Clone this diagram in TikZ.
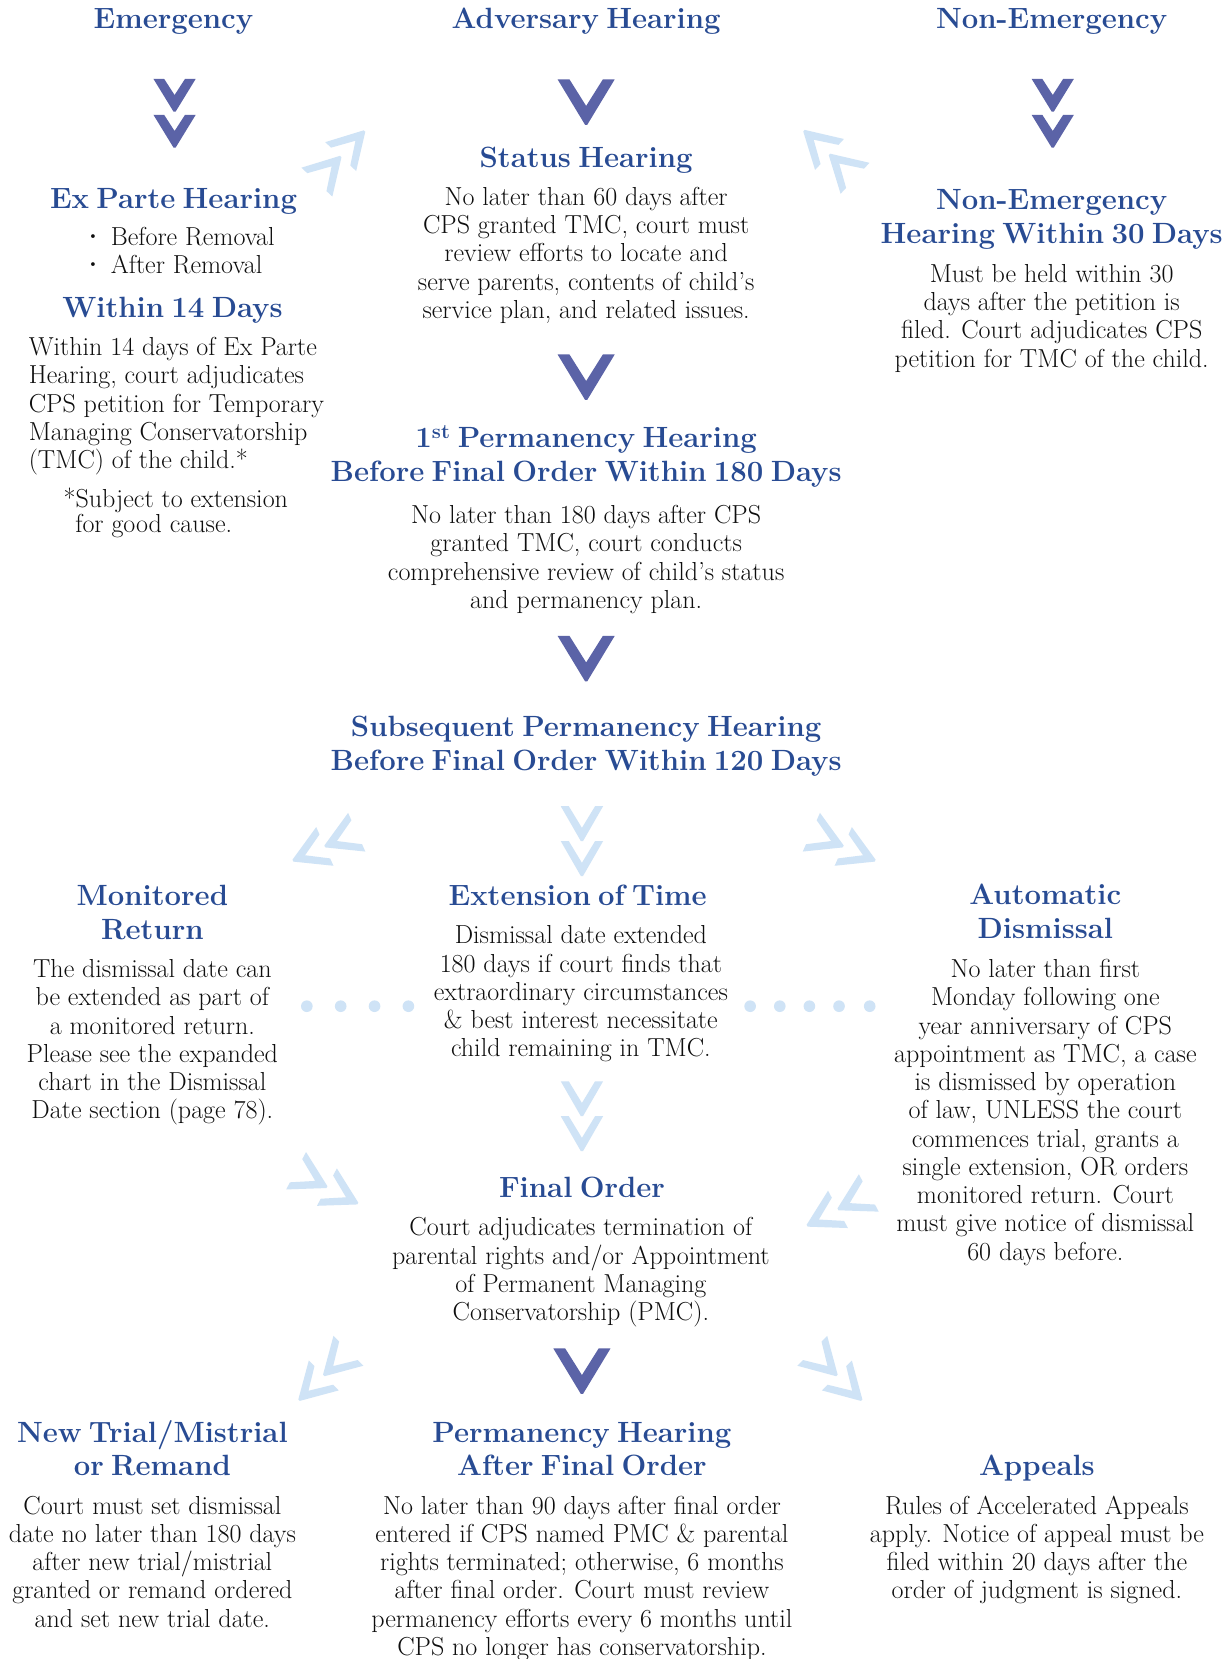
\documentclass[tikz,border=0pt]{standalone}
\definecolor{hblue}{HTML}{284B93}
\definecolor{dchev}{HTML}{5B63A7}
\definecolor{lchev}{HTML}{CFE3F6}
\definecolor{txt}{HTML}{0E0E0E}
% single V: x, y (centre), tip direction, half width, height, arm thickness, colour
\newcommand\myV[7]{%
  \begin{scope}[shift={(#1,#2)},rotate=#3+90]
    \pgfmathsetmacro\myL{sqrt((#4)*(#4)+(#5)*(#5))}%
    \pgfmathsetmacro\myd{(#6)*\myL/(#5)}%
    \pgfmathsetmacro\mye{(#6)*\myL/(#4)}%
    \pgfmathsetmacro\myhh{(#5)/2}%
    \fill[#7] (-#4pt,\myhh pt) -- (-#4pt+\myd pt,\myhh pt) -- (0pt,-\myhh pt+\mye pt)
      -- (#4pt-\myd pt,\myhh pt) -- (#4pt,\myhh pt) -- (1pt,-\myhh pt) -- (-1pt,-\myhh pt) -- cycle;
  \end{scope}}
% double V: x, y, tip direction, half width, height, thickness, spacing, colour
\newcommand\myVV[8]{%
  \pgfmathsetmacro\mydx{(#7)/2*cos(#3)}%
  \pgfmathsetmacro\mydy{(#7)/2*sin(#3)}%
  \myV{#1+\mydx}{#2-\mydy}{#3}{#4}{#5}{#6}{#8}%
  \pgfmathsetmacro\mydx{(#7)/2*cos(#3)}%
  \pgfmathsetmacro\mydy{(#7)/2*sin(#3)}%
  \myV{#1-\mydx}{#2+\mydy}{#3}{#4}{#5}{#6}{#8}}
\newcommand\hdfont{\fontsize{27.7}{32}\selectfont\bfseries\spaceskip 0.25em plus 0.05em minus 0.05em\relax}
\newcommand\bdfont{\fontsize{24.6}{26.7}\selectfont}
\newcommand\fnfont{\fontsize{24.6}{22}\selectfont}
\tikzset{
  head/.style={font=\hdfont, text=hblue, align=center, inner sep=0pt, anchor=base},
  body/.style={font=\bdfont, text=txt, align=center, inner sep=0pt, anchor=base},
}
\begin{document}
\begin{tikzpicture}[x=1pt,y=-1pt]
\useasboundingbox (0,0) rectangle (1163,1568);
\fill[white] (0,0) rectangle (1163,1568);

% (multi-line nodes are placed at the baseline of their last line)
% top row
\node[head] (hEm) at (164,27) {Emergency};
\node[head] (hAdv) at (554,27) {Adversary Hearing};
\node[head] (hNon) at (994,27) {Non-Emergency};

% status
\node[head] (hStat) at (554,158) {Status Hearing};
\node[body] (bStat) at (554,300.8) {No later than 60 days after\\CPS granted TMC, court must\\review efforts to locate and\\serve parents, contents of child’s\\service plan, and related issues.};

% ex parte
\node[head] (hEx) at (164,197) {Ex Parte Hearing};
\node[body, align=left, anchor=base west] (bEx) at (77,258.7) {\textbf{·}\hspace{6pt}Before Removal\\\textbf{·}\hspace{6pt}After Removal};
\node[head] (hW14) at (163,300) {Within 14 Days};
\node[body, align=left, anchor=base west] (bW14) at (27,442.8) {Within 14 days of Ex Parte\\Hearing, court adjudicates\\CPS petition for Temporary\\Managing Conservatorship\\(TMC) of the child.*};
\node[body, align=left, anchor=base west, font=\fnfont] (fn) at (60,503) {*Subject to extension\\\hspace*{11pt}for good cause.};

% non-emergency
\node[head] (hNE) at (994,230) {Non-Emergency\\Hearing Within 30 Days};
\node[body] (bNE) at (994,347.1) {Must be held within 30\\days after the petition is\\filed. Court adjudicates CPS\\petition for TMC of the child.};

% first permanency
\node[head] (hP1) at (554,455) {1\textsuperscript{st} Permanency Hearing\\Before Final Order Within 180 Days};
\node[body] (bP1) at (554,575.1) {No later than 180 days after CPS\\granted TMC, court conducts\\comprehensive review of child’s status\\and permanency plan.};

% subsequent
\node[head] (hSub) at (554,728) {Subsequent Permanency Hearing\\Before Final Order Within 120 Days};

% monitored return
\node[head] (hMon) at (144,888) {Monitored\\Return};
\node[body] (bMon) at (144,1057.5) {The dismissal date can\\be extended as part of\\a monitored return.\\Please see the expanded\\chart in the Dismissal\\Date section (page 78).};

% extension
\node[head] (hExt) at (546,856) {Extension of Time};
\node[body] (bExt) at (549,998.8) {Dismissal date extended\\180 days if court finds that\\extraordinary circumstances\\\&{} best interest necessitate\\child remaining in TMC.};

% automatic dismissal
\node[head] (hAuto) at (988,887) {Automatic\\Dismissal};
\node[body] (bAuto) at (988,1191) {No later than first\\Monday following one\\year anniversary of CPS\\appointment as TMC, a case\\is dismissed by operation\\of law, UNLESS the court\\commences trial, grants a\\single extension, OR orders\\monitored return. Court\\must give notice of dismissal\\60 days before.};

% final order
\node[head] (hFin) at (550,1132) {Final Order};
\node[body] (bFin) at (549,1248.1) {Court adjudicates termination of\\parental rights and/or Appointment\\of Permanent Managing\\Conservatorship (PMC).};

% bottom row
\node[head] (hNT) at (144,1395) {New Trial/Mistrial\\or Remand};
\node[body] (bNT) at (144,1537.8) {Court must set dismissal\\date no later than 180 days\\after new trial/mistrial\\granted or remand ordered\\and set new trial date.};
\node[head] (hPA) at (550,1395) {Permanency Hearing\\After Final Order};
\node[body] (bPA) at (550,1564.5) {No later than 90 days after final order\\entered if CPS named PMC \& parental\\rights terminated; otherwise, 6 months\\after final order. Court must review\\permanency efforts every 6 months until\\CPS no longer has conservatorship.};
\node[head] (hApp) at (980,1395) {Appeals};
\node[body] (bApp) at (980,1511.1) {Rules of Accelerated Appeals\\apply. Notice of appeal must be\\filed within 20 days after the\\order of judgment is signed.};

% dark chevrons
\myVV{165}{107}{270}{20}{31}{8.5}{34}{dchev}
\myVV{995}{107}{270}{20}{31}{8.5}{34}{dchev}
\myV{554}{96.5}{270}{27}{43}{9.5}{dchev}
\myV{554}{356.5}{270}{27}{43}{9.5}{dchev}
\myV{554}{622.5}{270}{27}{43}{9.5}{dchev}
\myV{550}{1296}{270}{27}{43}{9.5}{dchev}

% light chevrons
\myVV{322}{148}{47}{20}{33}{6.5}{33}{lchev}
\myVV{784}{146}{137}{20}{33}{6.5}{33}{lchev}
\myVV{307}{800}{204}{20}{33}{6.5}{33}{lchev}
\myVV{550}{795}{270}{20}{33}{6.5}{33}{lchev}
\myVV{797}{800}{-24}{20}{33}{6.5}{33}{lchev}
\myVV{550}{1055}{270}{20}{33}{6.5}{33}{lchev}
\myVV{309}{1122}{-28}{20}{33}{6.5}{33}{lchev}
\myVV{792}{1143}{208}{20}{33}{6.5}{33}{lchev}
\myVV{306}{1300}{225}{20}{33}{6.5}{33}{lchev}
\myVV{791}{1300}{-45}{20}{33}{6.5}{33}{lchev}

% dots
\foreach \x in {290,322,354,386} \fill[lchev] (\x,951) circle[radius=5.5pt];
\foreach \x in {709,737,765,793,822} \fill[lchev] (\x,951) circle[radius=5.5pt];
\end{tikzpicture}
\end{document}
